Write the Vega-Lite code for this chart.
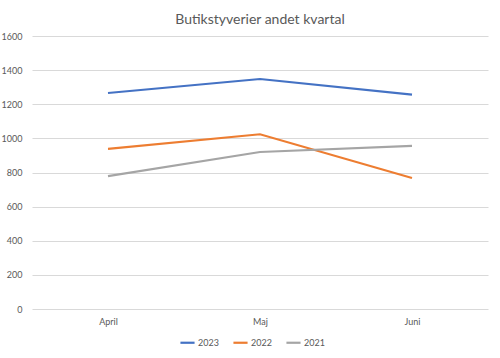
{
  "$schema": "https://vega.github.io/schema/vega-lite/v6.json",
  "autosize": {"type": "none"},
  "width": 456,
  "height": 273,
  "padding": {"left": 32, "top": 36, "right": 12, "bottom": 49},
  "background": "white",
  "title": {
    "text": "Butikstyverier andet kvartal",
    "font": "Lato",
    "fontSize": 14,
    "fontWeight": "normal",
    "color": "#595959",
    "anchor": "middle",
    "offset": 5
  },
  "data": {
    "values": [
      {"maaned": "April", "aar": "2023", "antal": 1266},
      {"maaned": "Maj", "aar": "2023", "antal": 1348},
      {"maaned": "Juni", "aar": "2023", "antal": 1256},
      {"maaned": "April", "aar": "2022", "antal": 938},
      {"maaned": "Maj", "aar": "2022", "antal": 1024},
      {"maaned": "Juni", "aar": "2022", "antal": 768},
      {"maaned": "April", "aar": "2021", "antal": 779},
      {"maaned": "Maj", "aar": "2021", "antal": 920},
      {"maaned": "Juni", "aar": "2021", "antal": 956}
    ]
  },
  "mark": {"type": "line", "strokeWidth": 2.2},
  "encoding": {
    "x": {
      "field": "maaned",
      "type": "ordinal",
      "sort": ["April", "Maj", "Juni"],
      "scale": {"type": "point", "padding": 0.5},
      "axis": {
        "title": null,
        "labelAngle": 0,
        "ticks": false,
        "domain": false,
        "grid": false,
        "labelFont": "Lato",
        "labelFontSize": 9,
        "labelColor": "#595959",
        "labelPadding": 8
      }
    },
    "y": {
      "field": "antal",
      "type": "quantitative",
      "scale": {"domain": [0, 1600]},
      "axis": {
        "title": null,
        "values": [0, 200, 400, 600, 800, 1000, 1200, 1400, 1600],
        "format": "d",
        "ticks": false,
        "domain": false,
        "gridColor": "#D9D9D9",
        "gridWidth": 1,
        "labelFont": "Lato",
        "labelFontSize": 9,
        "labelColor": "#595959",
        "labelPadding": 10
      }
    },
    "color": {
      "field": "aar",
      "type": "nominal",
      "scale": {"domain": ["2023", "2022", "2021"], "range": ["#4472C4", "#ED7D31", "#A5A5A5"]},
      "legend": {
        "title": null,
        "orient": "none",
        "legendX": 147,
        "legendY": 298,
        "direction": "horizontal",
        "symbolType": "stroke",
        "symbolStrokeWidth": 2.2,
        "symbolSize": 200,
        "labelFont": "Lato",
        "labelFontSize": 9,
        "labelColor": "#595959",
        "labelOffset": 2,
        "columnPadding": 10
      }
    }
  },
  "config": {"view": {"stroke": null}}
}
